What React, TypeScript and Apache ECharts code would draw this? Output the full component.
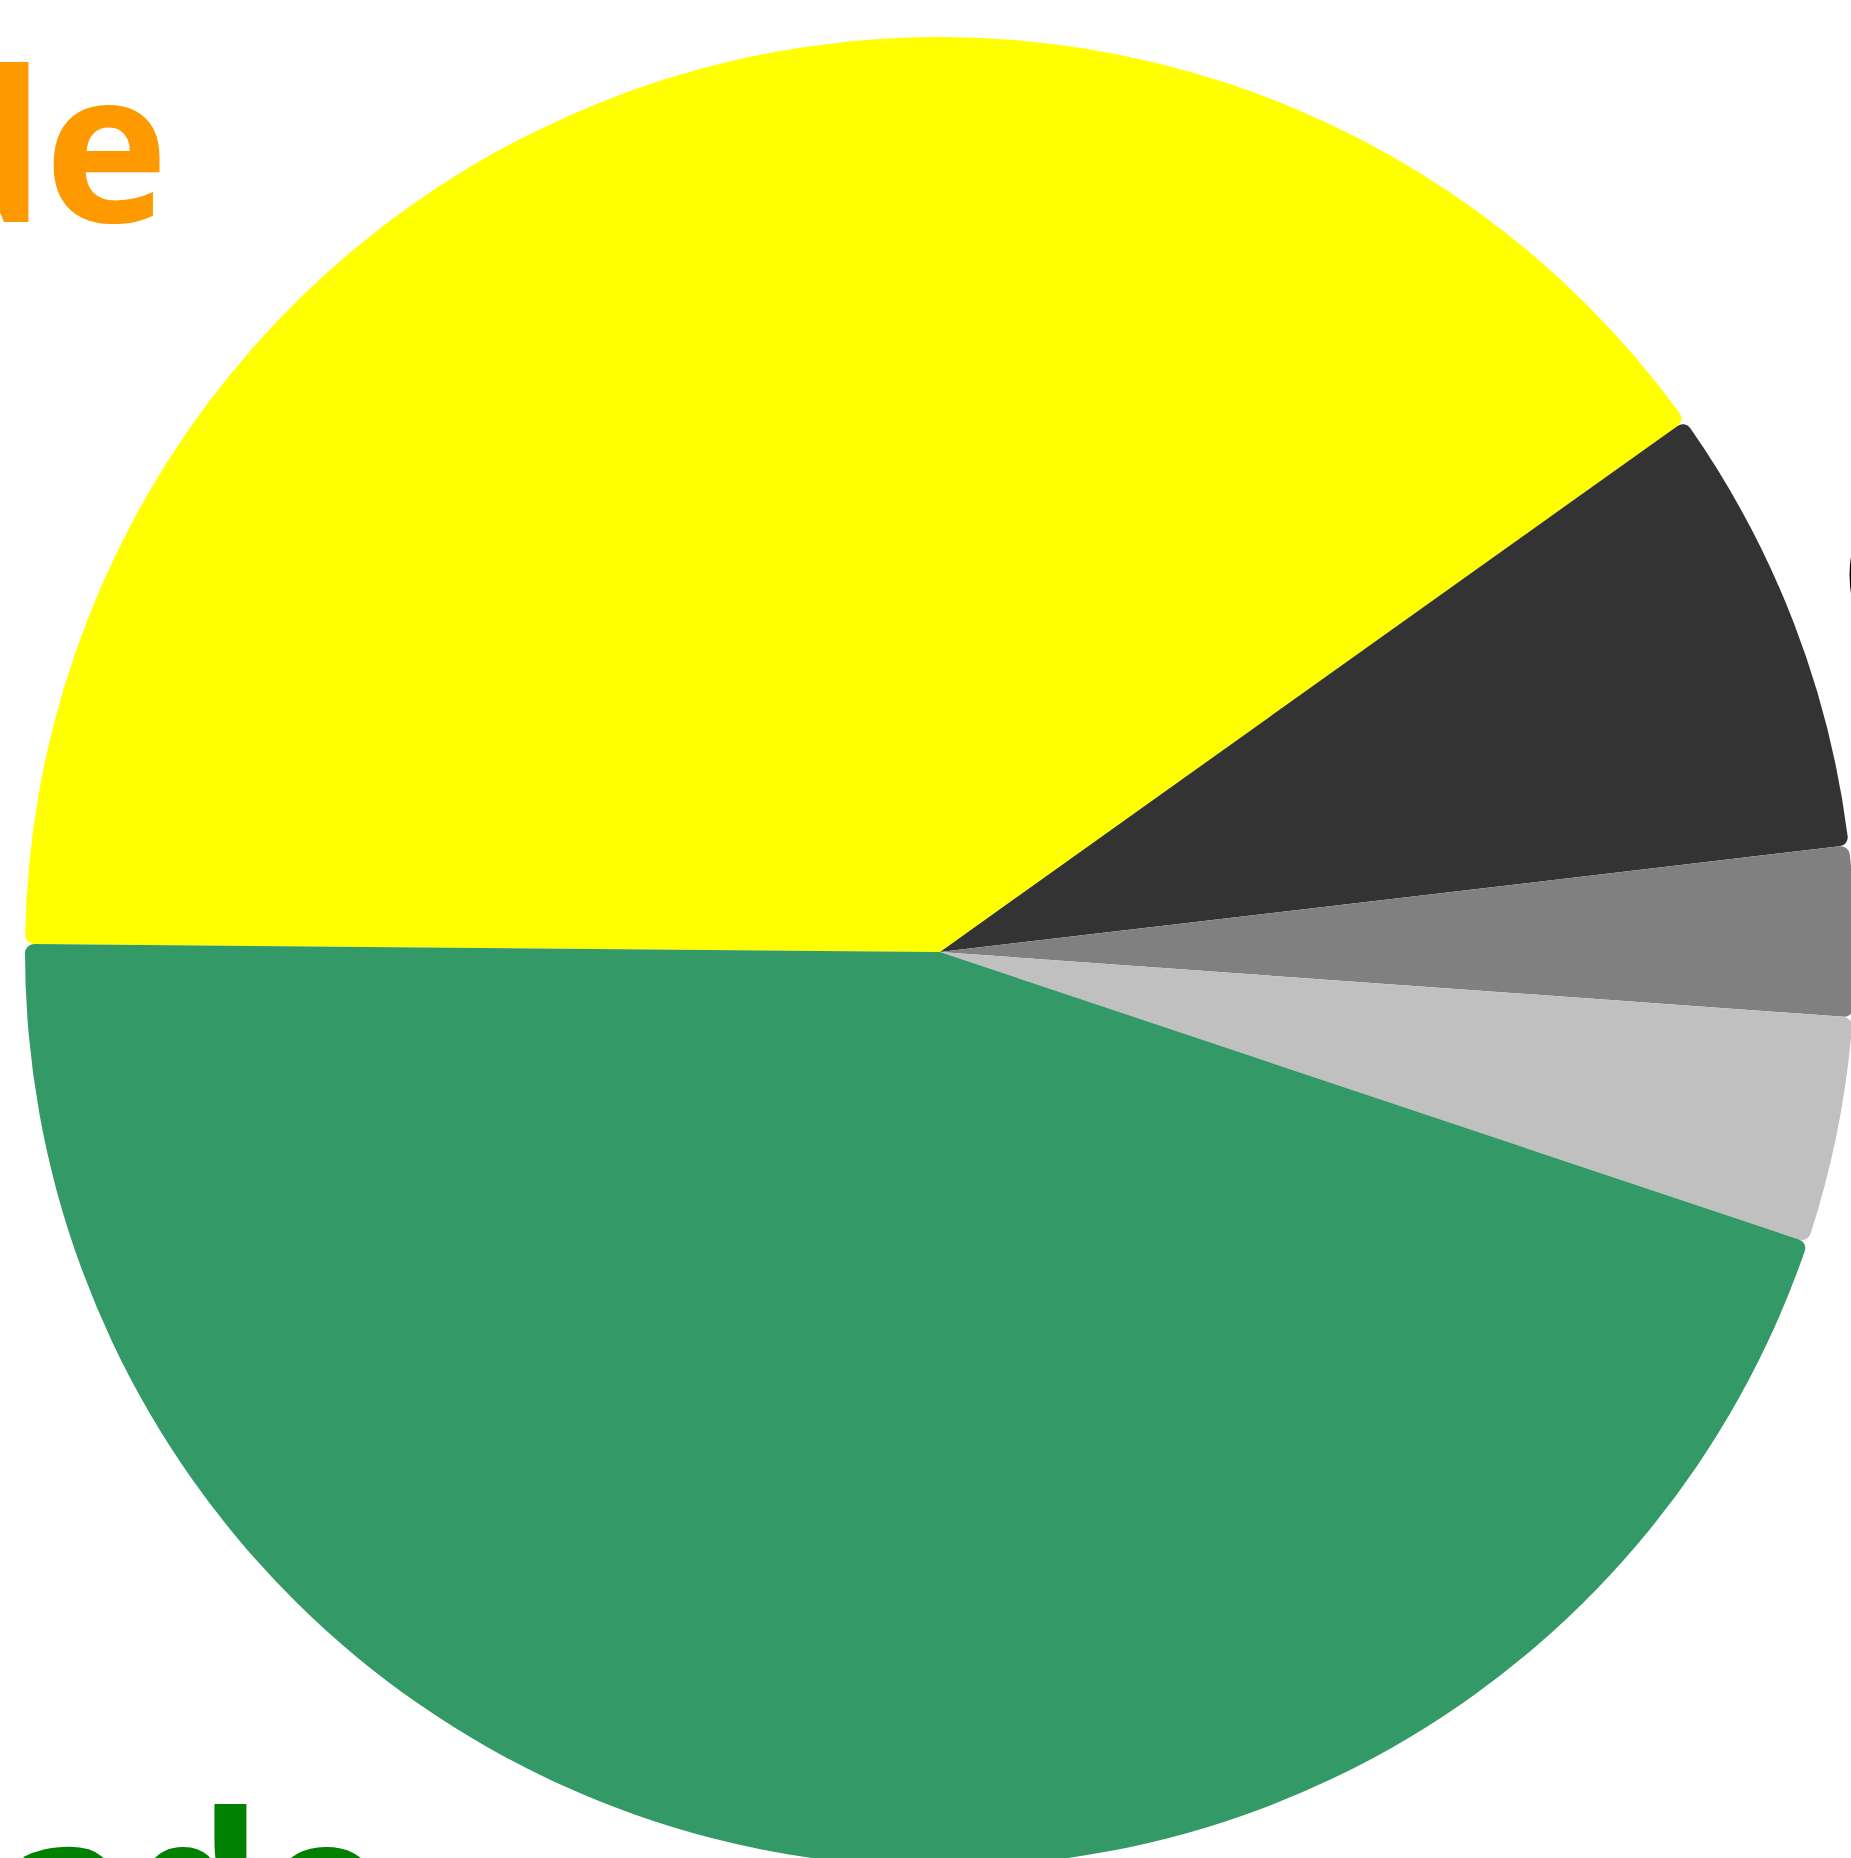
import React, { useEffect, useRef } from "react";
import * as echarts from "echarts";

const categories = ["Limonade", "Café", "Thé", "Lait", "Salade"];
const values = [40, 8, 3, 4, 45];
const sliceColors = ["#ffff00", "#333333", "#808080", "#c0c0c0", "#339966"];
const labelColors = ["#ff9900", "#000000", "#000000", "#000000", "#008000"];
const labelShown = [true, true, false, false, true];

const LABEL_FONT_SIZE = 210;
// anchor points for the big labels (x, y of text centre line)
const labelAnchors: Record<string, { x: number; y: number; align: string }> = {
  "Limonade": { x: 169, y: 141, align: "right" },
  "Café": { x: 1838, y: 569, align: "left" },
  "Thé": { x: 1900, y: 900, align: "left" },
  "Lait": { x: 1900, y: 1100, align: "left" },
  "Salade": { x: 387, y: 1883, align: "right" },
};

export default function App() {
  const ref = useRef<HTMLDivElement>(null);
  useEffect(() => {
    if (!ref.current) return;
    const chart = echarts.init(ref.current, undefined, { renderer: "svg" });
    const data = categories.map((name, i) => ({
      name,
      value: values[i],
      itemStyle: { color: sliceColors[i] },
      label: { show: labelShown[i], color: labelColors[i] },
    }));
    chart.setOption({
      animation: false,
      backgroundColor: "#ffffff",
      series: [
        {
          type: "pie",
          center: [940, 952],
          radius: 915,
          startAngle: 179.5,
          clockwise: true,
          avoidLabelOverlap: false,
          itemStyle: { borderRadius: 9, borderWidth: 0 },
          label: {
            show: true,
            position: "inside",
            formatter: "{b}",
            fontSize: LABEL_FONT_SIZE,
            fontWeight: "bold",
            fontFamily: "'Comic Sans MS', 'Noto Sans', sans-serif",
            overflow: "none",
          },
          labelLine: { show: false },
          labelLayout: (params: any) => {
            const a = labelAnchors[categories[params.dataIndex]];
            return { x: a.x, y: a.y, align: a.align, verticalAlign: "middle" };
          },
          emphasis: { disabled: true },
          data,
        },
      ],
    });
    return () => chart.dispose();
  }, []);
  return (
    <div
      ref={ref}
      style={{ position: "fixed", left: 0, top: 0, width: 1851, height: 1858 }}
    />
  );
}
